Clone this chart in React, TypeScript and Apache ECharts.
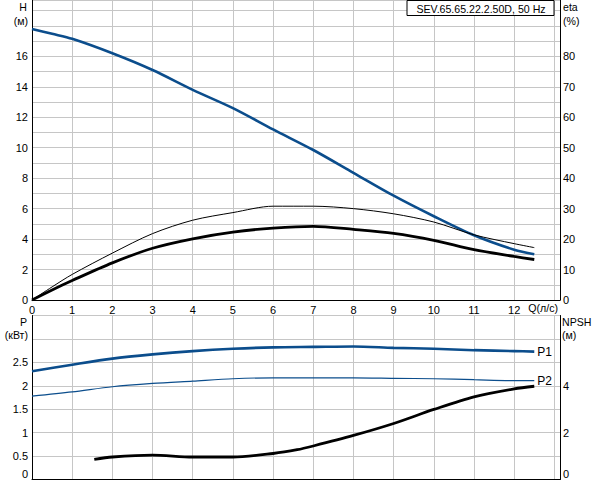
import { useEffect, useRef } from "react";
import * as echarts from "echarts";

// flow Q (l/s) sample points
const qPts = [0, 0.5, 1, 2, 3, 4, 5, 6, 7, 8, 9, 10, 11, 12, 12.5];
const headH = [17.8, 17.48, 17.15, 16.2, 15.1, 13.8, 12.6, 11.2, 9.85, 8.35, 6.85, 5.5, 4.25, 3.3, 3.0];
const etaThin = [0, 4.3, 8.4, 15.4, 21.8, 26.2, 28.7, 30.8, 30.8, 30.0, 28.3, 25.6, 21.4, 18.5, 17.2];
const etaThick = [0, 3.3, 6.4, 12.2, 17.0, 20.1, 22.3, 23.6, 24.2, 23.2, 21.9, 19.6, 16.5, 14.3, 13.3];

const qPower = [0, 1, 2, 3, 4, 5, 6, 7, 8, 9, 10, 11, 12, 12.5];
const powerP1 = [2.31, 2.45, 2.58, 2.67, 2.74, 2.79, 2.82, 2.83, 2.84, 2.81, 2.79, 2.76, 2.74, 2.73];
const powerP2 = [1.78, 1.87, 1.98, 2.05, 2.1, 2.15, 2.17, 2.17, 2.17, 2.16, 2.15, 2.13, 2.11, 2.11];

const qNpsh = [1.55, 2, 3, 4, 5, 6, 6.6, 7, 8, 9, 10, 11, 12, 12.5];
const npsh = [0.86, 0.96, 1.04, 0.96, 0.96, 1.11, 1.27, 1.43, 1.88, 2.39, 2.99, 3.53, 3.87, 3.98];

const title = "SEV.65.65.22.2.50D, 50 Hz";

const BLUE = "#0b4d8c";
const GRID = "#c6c6c6";
const FONT = "Liberation Sans, Arial, sans-serif";

const pairs = (xs: number[], ys: number[]) => xs.map((x, i) => [x, ys[i]]);

export default function App() {
  const chartRef = useRef<HTMLDivElement>(null);

  useEffect(() => {
    if (!chartRef.current) return;
    const chart = echarts.init(chartRef.current, null, { renderer: "svg" });

    const lbl = { color: "#000", fontSize: 11, fontFamily: FONT };
    const blackLine = { show: true, lineStyle: { color: "#000", width: 1 } };
    const split = { show: true, lineStyle: { color: GRID, width: 1 } };
    const zeroUp = { z: { padding: [0, 0, 12, 0], fontSize: 11, fontFamily: FONT, color: "#000" } };

    const txt = (x: number, y: number, text: string, align = "left") => ({
      type: "text",
      x,
      y,
      style: { text, fill: "#000", font: `10.6px ${FONT}`, textAlign: align, textVerticalAlign: "middle" },
    });

    const curve = (extra: object) => ({
      type: "line",
      smooth: 0.3,
      showSymbol: false,
      silent: true,
      ...extra,
    });

    const option: echarts.EChartsOption = {
      animation: false,
      grid: [
        { left: 32, right: 32, top: 0, height: 300 },
        { left: 32, right: 32, top: 315.5, height: 164 },
      ],
      xAxis: [
        {
          type: "value",
          gridIndex: 0,
          min: 0,
          max: 13.14,
          interval: 1,
          axisLine: blackLine,
          axisTick: { show: false },
          splitLine: split,
          axisLabel: {
            ...lbl,
            margin: 4,
            formatter: (v: number) => (v <= 12 ? String(v) : ""),
          },
        },
        {
          type: "value",
          gridIndex: 1,
          min: 0,
          max: 13.14,
          interval: 1,
          axisLine: blackLine,
          axisTick: { show: false },
          splitLine: split,
          axisLabel: { show: false },
        },
      ],
      yAxis: [
        {
          type: "value",
          gridIndex: 0,
          position: "left",
          min: 0,
          max: 19.7,
          interval: 1,
          axisLine: blackLine,
          axisTick: { show: false },
          splitLine: split,
          axisLabel: {
            ...lbl,
            margin: 4,
            formatter: (v: number) => (v % 2 === 0 && v <= 16 ? String(v) : ""),
          },
        },
        {
          type: "value",
          gridIndex: 0,
          position: "right",
          min: 0,
          max: 98.5,
          interval: 10,
          axisLine: blackLine,
          axisTick: { show: false },
          splitLine: { show: false },
          axisLabel: {
            ...lbl,
            margin: 3,
            formatter: (v: number) => (v <= 80 ? String(v) : ""),
          },
        },
        {
          type: "value",
          gridIndex: 1,
          position: "left",
          min: 0,
          max: 3.5,
          interval: 0.5,
          axisLine: blackLine,
          axisTick: { show: false },
          splitLine: split,
          axisLabel: {
            ...lbl,
            margin: 4,
            rich: zeroUp,
            formatter: (v: number) => (v === 0 ? "{z|0}" : v <= 2.5 ? String(v) : ""),
          },
        },
        {
          type: "value",
          gridIndex: 1,
          position: "right",
          min: 0,
          max: 7,
          interval: 2,
          axisLine: blackLine,
          axisTick: { show: false },
          splitLine: { show: false },
          axisLabel: {
            ...lbl,
            margin: 3,
            rich: zeroUp,
            formatter: (v: number) => (v === 0 ? "{z|0}" : v <= 4 ? String(v) : ""),
          },
        },
      ],
      series: [
        curve({
          xAxisIndex: 0,
          yAxisIndex: 0,
          data: pairs(qPts, headH),
          lineStyle: { color: BLUE, width: 2.6 },
        }),
        curve({
          xAxisIndex: 0,
          yAxisIndex: 1,
          data: pairs(qPts, etaThin),
          lineStyle: { color: "#000", width: 1 },
        }),
        curve({
          xAxisIndex: 0,
          yAxisIndex: 1,
          data: pairs(qPts, etaThick),
          lineStyle: { color: "#000", width: 2.8 },
        }),
        curve({
          xAxisIndex: 1,
          yAxisIndex: 2,
          data: pairs(qPower, powerP1),
          lineStyle: { color: BLUE, width: 2.6 },
          endLabel: { show: true, formatter: "P1", distance: 3, ...lbl, fontSize: 12 },
        }),
        curve({
          xAxisIndex: 1,
          yAxisIndex: 2,
          data: pairs(qPower, powerP2),
          lineStyle: { color: BLUE, width: 1.2 },
          endLabel: { show: true, formatter: "P2", distance: 3, ...lbl, fontSize: 12 },
        }),
        curve({
          xAxisIndex: 1,
          yAxisIndex: 3,
          data: pairs(qNpsh, npsh),
          lineStyle: { color: "#000", width: 2.8 },
        }),
      ] as any,
      graphic: [
        {
          type: "rect",
          shape: { x: 407, y: 0.5, width: 147, height: 15 },
          style: { fill: "#fff", stroke: "#000", lineWidth: 1 },
          z: 100,
        },
        { ...txt(481, 8.5, title, "center"), z: 101 },
        txt(27, 7, "H", "right"),
        txt(28, 21, "(м)", "right"),
        txt(563, 7, "eta"),
        txt(563, 21, "(%)"),
        txt(558, 308, "Q(л/с)", "right"),
        txt(27, 322, "P", "right"),
        txt(28, 335, "(кВт)", "right"),
        txt(562, 322, "NPSH"),
        txt(562, 335, "(м)"),
      ] as any,
    };

    chart.setOption(option);
    return () => chart.dispose();
  }, []);

  return (
    <div
      ref={chartRef}
      style={{ position: "absolute", left: 0, top: 0, width: 592, height: 480, background: "#fff" }}
    />
  );
}
